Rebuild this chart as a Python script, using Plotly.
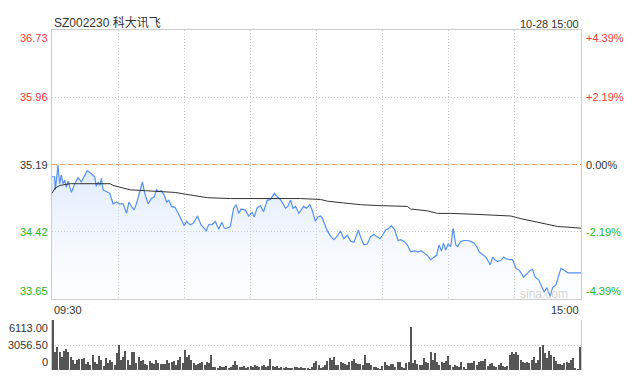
import plotly.graph_objects as go

# ---------------- data ----------------
title_text = "SZ002230 科大讯飞"
date_text = "10-28 15:00"
time_labels = ["09:30", "15:00"]
prev_close = 35.19

price_ticks = [36.73, 35.96, 35.19, 34.42, 33.65]
price_tick_labels = ["36.73", "35.96", "35.19", "34.42", "33.65"]
pct_tick_labels = ["+4.39%", "+2.19%", "0.00%", "-2.19%", "-4.39%"]
vol_ticks = [6113.00, 3056.50, 0]
vol_tick_labels = ["6113.00", "3056.50", "0"]

# minutes since 09:30 (trading minutes, 0..240)
price_minutes = [
    0, 1.2, 1.5, 2.7, 3.5, 4.2, 5, 5.8, 6.5, 7.3,
    8.8, 10.3, 11.8, 13.3, 14.5, 16, 17.6, 18.6, 19.4, 20.1,
    20.9, 21.7, 22.4, 23.2, 24.7, 26.2, 27.7, 29.2, 30.8, 32.3,
    33.8, 34.9, 36, 37.3, 38.3, 39.9, 41, 42.1, 43.6, 45.1,
    46.4, 47.4, 48.5, 49.7, 50.9, 52, 53, 54.2, 55.8, 57.3,
    58.8, 60, 61,
    62.7, 64.2, 66, 67.6, 69.1, 70, 71, 72.6, 74.1, 75.6,
    77.1, 78.2, 79.4, 80.9, 82.4, 83.6, 84.7, 85.8, 87.7, 89.2,
    90.8, 91.8, 93, 94.5, 96, 97.6, 99.1, 100.9, 102.1, 103.6,
    105.1, 105.9, 107, 108.2, 109.4, 110.5, 112, 113, 114.2, 115.5,
    117, 118, 119.5, 120.6, 121.8,
    122.6, 123.6, 124.9, 126.4, 127.9, 129.4, 130.9, 132.4, 134, 135.5,
    137, 139, 140, 141.5, 143, 144.5, 146, 147.6, 148.8, 149.9,
    151.4, 152.4, 154, 155.5, 157, 158.2, 159.7, 161.2, 162.7, 164.5,
    166, 167.6, 168.8, 170.3, 171.8, 173.3, 174.5, 175.6, 176.7, 177.6,
    178.6, 179.7, 180.9,
    182, 183.2, 184, 185.5, 187, 188.5, 190, 191.5, 192.7, 193.8,
    195.3, 196.8, 198, 198.8, 199.9, 200.9, 202.1, 203.6, 204.9, 205.9,
    207.4, 209, 210.5, 212, 214, 215.5, 217, 218, 219.2, 220.8,
    221.8, 223.3, 224.5, 226, 227.1, 228.6, 229.7, 230.9, 232.4, 234,
    236.2, 238.5, 240,
]
prices = [
    35.05, 35.05, 34.90, 35.18, 34.97, 35.07, 34.97, 35.01, 34.93, 35.00,
    34.87, 34.97, 35.04, 34.99, 35.05, 35.12, 35.09, 35.07, 35.05, 34.94,
    34.99, 34.95, 35.03, 34.90, 34.88, 34.86, 34.74, 34.76, 34.74, 34.74,
    34.63, 34.76, 34.71, 34.67, 34.74, 34.88, 34.99, 34.86, 34.74, 34.80,
    34.82, 34.90, 34.88, 34.89, 34.84, 34.76, 34.78, 34.71, 34.70, 34.63,
    34.55, 34.49, 34.54,
    34.50, 34.52, 34.60, 34.50, 34.46, 34.43, 34.50, 34.50, 34.54, 34.45,
    34.53, 34.46, 34.46, 34.48, 34.69, 34.73, 34.63, 34.68, 34.67, 34.60,
    34.64, 34.59, 34.69, 34.72, 34.65, 34.78, 34.79, 34.86, 34.82, 34.79,
    34.73, 34.69, 34.71, 34.78, 34.69, 34.71, 34.63, 34.67, 34.71, 34.69,
    34.73, 34.67, 34.54, 34.59, 34.60,
    34.58, 34.52, 34.43, 34.37, 34.33, 34.37, 34.43, 34.34, 34.38, 34.31,
    34.30, 34.44, 34.36, 34.27, 34.28, 34.36, 34.39, 34.36, 34.34, 34.38,
    34.44, 34.45, 34.49, 34.44, 34.32, 34.33, 34.31, 34.27, 34.19, 34.20,
    34.19, 34.20, 34.18, 34.15, 34.10, 34.13, 34.15, 34.27, 34.20, 34.29,
    34.21, 34.28, 34.25,
    34.46, 34.27, 34.25, 34.31, 34.32, 34.32, 34.31, 34.29, 34.25, 34.19,
    34.16, 34.13, 34.08, 34.04, 34.13, 34.10, 34.08, 34.09, 34.13, 34.11,
    34.10, 34.10, 34.00, 33.98, 33.90, 33.94, 33.98, 33.99, 33.90, 33.87,
    33.81, 33.73, 33.78, 33.68, 33.78, 33.81, 33.90, 34.00, 33.98, 33.95,
    33.95, 33.95, 33.95,
]

avg_minutes = [
    0, 1.4, 3.6, 8.2, 12.7, 21.8, 26.4, 27.7, 30.9, 35.5,
    42.3, 49, 55.9, 60.5, 70.5, 81, 99, 112.7, 121.8, 124.9,
    132.3, 140, 147.6, 161.2, 162.7, 170.3, 174.9, 180.9, 191.5, 199.1,
    208.2, 212.7, 218.8, 224.9, 229.4, 235.5, 240,
]
avg_prices = [
    34.86, 34.92, 34.95, 34.97, 34.97, 34.97, 34.97, 34.95, 34.93, 34.90,
    34.89, 34.88, 34.87, 34.85, 34.81, 34.80, 34.80, 34.80, 34.79, 34.77,
    34.75, 34.73, 34.72, 34.71, 34.68, 34.66, 34.63, 34.63, 34.62, 34.61,
    34.60, 34.57, 34.54, 34.51, 34.48, 34.47, 34.46,
]

volumes = [
    6113, 2241, 2853, 2241, 1630, 2364, 2527, 2241, 1549, 1223,
    734, 1223, 1345, 1304, 1426, 693, 1019, 611, 1834, 1019,
    734, 1712, 1223, 489, 1426, 897, 1223, 1019, 611, 2038,
    3056, 1223, 1630, 2364, 1223, 611, 2241, 2241, 815, 1630,
    1141, 1223, 734, 571, 1141, 815, 734, 1223, 815, 693,
    734, 734, 1223, 815, 978, 1141, 611, 1223, 1630, 815,
    2445, 1630, 1834, 1223, 815, 611, 734, 897, 937, 611,
    937, 897, 1834,
    326, 408, 285, 489, 367, 326, 448, 245, 367, 571,
    1100, 611, 408, 326, 489, 285, 367, 489, 326, 611,
    530, 367, 489, 571, 408, 530, 1345, 489, 367, 448,
    285, 326, 245, 367, 204, 285, 163, 326, 408, 245,
    367, 204, 285, 163,
    122, 326, 815, 1141, 611, 204, 326, 611, 1141, 1426,
    1223, 1630, 611, 611, 1019, 897, 734, 611, 1019, 1141,
    1304, 815, 734, 734, 611, 1834, 815, 897, 611, 408,
    326, 204, 122, 489, 1019, 611, 489, 734, 734, 326,
    1019, 1019, 408, 204, 815, 1019, 5298, 815, 1223, 734,
    611, 611, 1426, 1019, 815, 2241, 1223, 2119, 1019, 611,
    1019, 897, 1141, 1712, 611, 408, 611, 489, 408, 1019,
    326, 122, 815, 815, 815, 1141, 611, 1019, 1141, 1141,
    1304, 489, 734, 815, 489, 326, 611, 815, 489, 408,
    489, 1834, 2241, 1956, 2241, 1834, 1223, 1019, 815, 1019,
    815, 1223, 1630, 897, 1223, 2853, 3056, 2038, 1426, 2364,
    1834, 1549, 1141, 734, 734, 611, 815, 1019, 897, 1223,
    1426, 204, 122, 2853,
]
vol_minutes = list(range(len(volumes)))

# ---------------- styling ----------------
FONT = "Liberation Sans, Arial, Noto Sans CJK SC, sans-serif"
RED = "#f03a3a"
GREEN = "#1db41d"
NEUTRAL = "#333333"
GRID = "#c8c8c8"
GRID_DASH = "1px,2px"
BORDER = "#cccccc"
label_colors = [RED, RED, NEUTRAL, GREEN, GREEN]

W, H = 635, 376
ML, MR, MT, MB = 52, 54, 30, 6
PH = H - MT - MB  # plot area height in px


def py2paper(py):
    return (H - MB - py) / PH


fig = go.Figure()

# price line with gradient fill
fig.add_trace(go.Scatter(
    x=price_minutes, y=prices, mode="lines",
    line=dict(color="#5590ee", width=1.2),
    fill="tozeroy",
    fillgradient=dict(
        type="vertical",
        colorscale=[[0, "rgba(225,235,252,0.05)"], [1, "rgba(200,220,250,0.6)"]],
        start=price_ticks[-1], stop=prev_close,
    ),
    hoverinfo="skip", xaxis="x", yaxis="y",
))
# average price line
fig.add_trace(go.Scatter(
    x=avg_minutes, y=avg_prices, mode="lines",
    line=dict(color="#333333", width=1), hoverinfo="skip",
    xaxis="x", yaxis="y",
))
# volume bars
fig.add_trace(go.Bar(
    x=vol_minutes, y=volumes, width=0.5,
    marker=dict(color="#555555", line=dict(width=0)),
    hoverinfo="skip", xaxis="x2", yaxis="y2",
))

main_bottom = py2paper(299)
vol_top = py2paper(320)

fig.update_layout(
    width=W, height=H,
    margin=dict(l=ML, r=MR, t=MT, b=MB, pad=0),
    paper_bgcolor="white", plot_bgcolor="white",
    showlegend=False, bargap=0,
    font=dict(family=FONT, size=11, color=NEUTRAL),
    xaxis=dict(
        domain=[0, 1], range=[0, 240], anchor="y",
        tickvals=[30, 60, 90, 120, 150, 180, 210],
        showticklabels=False, ticks="",
        showgrid=True, gridcolor=GRID, griddash=GRID_DASH, gridwidth=1,
        showline=True, mirror=True, linecolor=BORDER, linewidth=1,
        zeroline=False,
    ),
    yaxis=dict(
        domain=[main_bottom, 1], range=[price_ticks[-1], price_ticks[0]],
        anchor="x",
        tickvals=[price_ticks[1], price_ticks[3]],
        showticklabels=False, ticks="",
        showgrid=True, gridcolor=GRID, griddash=GRID_DASH, gridwidth=1,
        showline=True, mirror=True, linecolor=BORDER, linewidth=1,
        zeroline=False,
    ),
    xaxis2=dict(
        domain=[0, 1], range=[-0.5, 240.5], anchor="y2",
        showticklabels=False, ticks="", showgrid=False,
        showline=False, zeroline=False,
    ),
    yaxis2=dict(
        domain=[0, vol_top], range=[0, vol_ticks[0]], anchor="x2",
        tickvals=[vol_ticks[1], vol_ticks[0] * 0.9995],
        showticklabels=False, ticks="",
        showgrid=True, gridcolor=GRID, griddash=GRID_DASH, gridwidth=1,
        showline=True, mirror=True, linecolor=BORDER, linewidth=1,
        zeroline=False,
    ),
)

# previous close dashed line
fig.add_shape(
    type="line", xref="x domain", yref="y", x0=0, x1=1,
    y0=prev_close, y1=prev_close,
    line=dict(color="#f5a05a", width=1, dash="5px,3px"),
)

anns = []
# title and date
anns.append(dict(text=title_text, x=0, y=py2paper(22.5), xref="paper", yref="paper",
                 xanchor="left", yanchor="middle", showarrow=False,
                 font=dict(size=12, color=NEUTRAL)))
anns.append(dict(text=date_text, x=1, y=py2paper(23.5), xref="paper", yref="paper",
                 xanchor="right", yanchor="middle", showarrow=False,
                 font=dict(size=11, color=NEUTRAL)))
# time labels
anns.append(dict(text=time_labels[0], x=0, y=py2paper(310), xref="paper", yref="paper",
                 xanchor="left", yanchor="middle", showarrow=False,
                 font=dict(size=11, color=NEUTRAL)))
anns.append(dict(text=time_labels[1], x=1, y=py2paper(310), xref="paper", yref="paper",
                 xanchor="right", yanchor="middle", showarrow=False,
                 font=dict(size=11, color=NEUTRAL)))
# price / percent labels
yanchors = ["top", "middle", "middle", "middle", "bottom"]
for val, lab, pct, col, ya in zip(price_ticks, price_tick_labels, pct_tick_labels,
                                  label_colors, yanchors):
    anns.append(dict(text=lab, x=0, y=val, xref="paper", yref="y",
                     xanchor="right", yanchor=ya, xshift=-2, showarrow=False,
                     font=dict(size=11, color=col)))
    anns.append(dict(text=pct, x=1, y=val, xref="paper", yref="y",
                     xanchor="left", yanchor=ya, xshift=3, showarrow=False,
                     font=dict(size=11, color=col)))
# volume labels
vol_anchors = ["top", "middle", "bottom"]
for val, lab, ya in zip(vol_ticks, vol_tick_labels, vol_anchors):
    anns.append(dict(text=lab, x=0, y=val, xref="paper", yref="y2",
                     xanchor="right", yanchor=ya, xshift=-2, showarrow=False,
                     font=dict(size=11, color=NEUTRAL)))
# watermark
anns.append(dict(text="sina.com", x=(570 - ML) / (W - ML - MR), y=py2paper(294),
                 xref="paper", yref="paper", xanchor="right", yanchor="middle",
                 showarrow=False, font=dict(size=12, color="#d5d5d5")))

fig.update_layout(annotations=anns)

fig.write_html(
    "out.html",
    config={"displayModeBar": False},
    post_script="document.body.style.margin='0';document.body.style.overflow='hidden';",
)
